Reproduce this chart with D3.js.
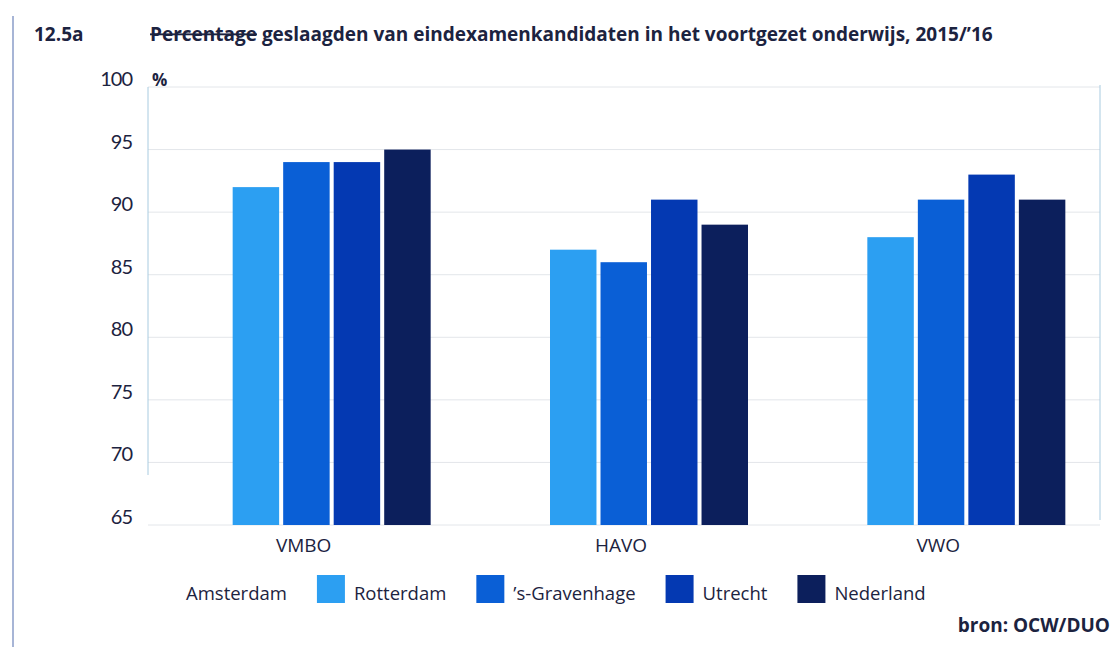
<!DOCTYPE html>
<html>

<head>
  <script src="https://d3js.org/d3.v7.min.js"></script>

  <style>
    body { margin: 0; background: #fff; }
    text { font-family: "Open Sans", Lato, sans-serif; fill: #1c2340; }
    .tick { font-family: Lato, "Open Sans", sans-serif; }
  </style>
</head>

<body>

  <div id="svgcontainer"></div>

  <script>

    // data
    var categories = ["VMBO", "HAVO", "VWO"];
    var series = ["Rotterdam", "\u2019s-Gravenhage", "Utrecht", "Nederland"];
    var legendLabels = ["Amsterdam", "Rotterdam", "\u2019s-Gravenhage", "Utrecht", "Nederland"];
    var values = {
      "VMBO": [92, 94, 94, 95],
      "HAVO": [87, 86, 91, 89],
      "VWO":  [88, 91, 93, 91]
    };
    var yTicks = [65, 70, 75, 80, 85, 90, 95, 100];
    var colors = ["#2c9ff2", "#0a5fd6", "#0439b2", "#0c1f5c"];

    var width = 1112, height = 653;
    var plot = { left: 148, right: 1100, top: 87, bottom: 525 };

    var svg = d3.select("#svgcontainer")
      .append("svg")
      .attr("width", width)
      .attr("height", height);

    // scales
    var y = d3.scaleLinear()
      .domain([65, 100])
      .range([plot.bottom, plot.top]);

    var x = d3.scaleBand()
      .domain(categories)
      .range([plot.left, plot.right]);

    var groupWidth = 198;
    var x1 = d3.scaleBand()
      .domain(series)
      .range([0, groupWidth])
      .paddingInner(0.08);

    // scan border on the far left
    svg.append("line")
      .attr("x1", 13).attr("x2", 13)
      .attr("y1", 16).attr("y2", 647)
      .attr("stroke", "#8a9cc8")
      .attr("stroke-width", 1.5);

    // gridlines
    svg.append("g")
      .selectAll("line")
      .data(yTicks)
      .enter()
      .append("line")
      .attr("x1", plot.left)
      .attr("x2", plot.right)
      .attr("y1", d => y(d))
      .attr("y2", d => y(d))
      .attr("stroke", "#e3e6ea")
      .attr("stroke-width", 1);

    // left and right frame lines
    svg.append("line")
      .attr("x1", plot.left).attr("x2", plot.left)
      .attr("y1", y(100)).attr("y2", 475)
      .attr("stroke", "#a8cbe0");
    svg.append("line")
      .attr("x1", plot.right).attr("x2", plot.right)
      .attr("y1", y(100) - 2).attr("y2", 520)
      .attr("stroke", "#a8cbe0");

    // y tick labels (sit a little above their gridline)
    svg.append("g")
      .selectAll("text")
      .data(yTicks)
      .enter()
      .append("text")
      .attr("class", "tick")
      .attr("x", 132)
      .attr("y", d => y(d) - 1)
      .attr("text-anchor", "end")
      .style("font-size", "20px")
      .style("letter-spacing", "-1px")
      .text(d => d);

    svg.append("text")
      .attr("x", 152)
      .attr("y", 86)
      .style("font-size", "17px")
      .style("font-weight", "bold")
      .text("%");

    // bars
    var groups = svg.append("g")
      .selectAll("g")
      .data(categories)
      .enter()
      .append("g")
      .attr("transform", d => "translate(" + (x(d) + x.bandwidth() / 2 + 25 - groupWidth / 2) + ",0)");

    groups.selectAll("rect")
      .data(d => values[d].map((v, i) => ({ key: series[i], value: v, i: i })))
      .enter()
      .append("rect")
      .attr("x", d => x1(d.key))
      .attr("y", d => y(d.value))
      .attr("width", x1.bandwidth())
      .attr("height", d => y(65) - y(d.value))
      .attr("fill", d => colors[d.i]);

    // category labels
    svg.append("g")
      .selectAll("text")
      .data(categories)
      .enter()
      .append("text")
      .attr("x", d => x(d) + x.bandwidth() / 2 - 3)
      .attr("y", 552)
      .attr("text-anchor", "middle")
      .style("font-size", "19px")
      .text(d => d);

    // title
    svg.append("text")
      .attr("x", 34)
      .attr("y", 41)
      .style("font-size", "19px")
      .style("font-weight", "bold")
      .text("12.5a");

    var title = svg.append("text")
      .attr("x", 150)
      .attr("y", 41)
      .style("font-size", "19px")
      .style("font-weight", "bold");
    title.append("tspan")
      .style("text-decoration", "line-through")
      .text("Percentage");
    title.append("tspan")
      .text(" geslaagden van eindexamenkandidaten in het voortgezet onderwijs, 2015/\u201916");

    // legend: label, then swatch before the next label
    var legend = svg.append("g");
    var lx = 186;
    legendLabels.forEach(function (label, i) {
      if (i > 0) {
        legend.append("rect")
          .attr("x", lx)
          .attr("y", 575)
          .attr("width", 28)
          .attr("height", 28)
          .attr("fill", colors[i - 1]);
        lx += 37;
      }
      var t = legend.append("text")
        .attr("x", lx)
        .attr("y", 600)
        .style("font-size", "18.5px")
        .text(label);
      lx += t.node().getComputedTextLength() + 30;
    });

    // source
    svg.append("text")
      .attr("x", 1110)
      .attr("y", 632)
      .attr("text-anchor", "end")
      .style("font-size", "19px")
      .style("font-weight", "bold")
      .text("bron: OCW/DUO");

  </script>
</body>

</html>
